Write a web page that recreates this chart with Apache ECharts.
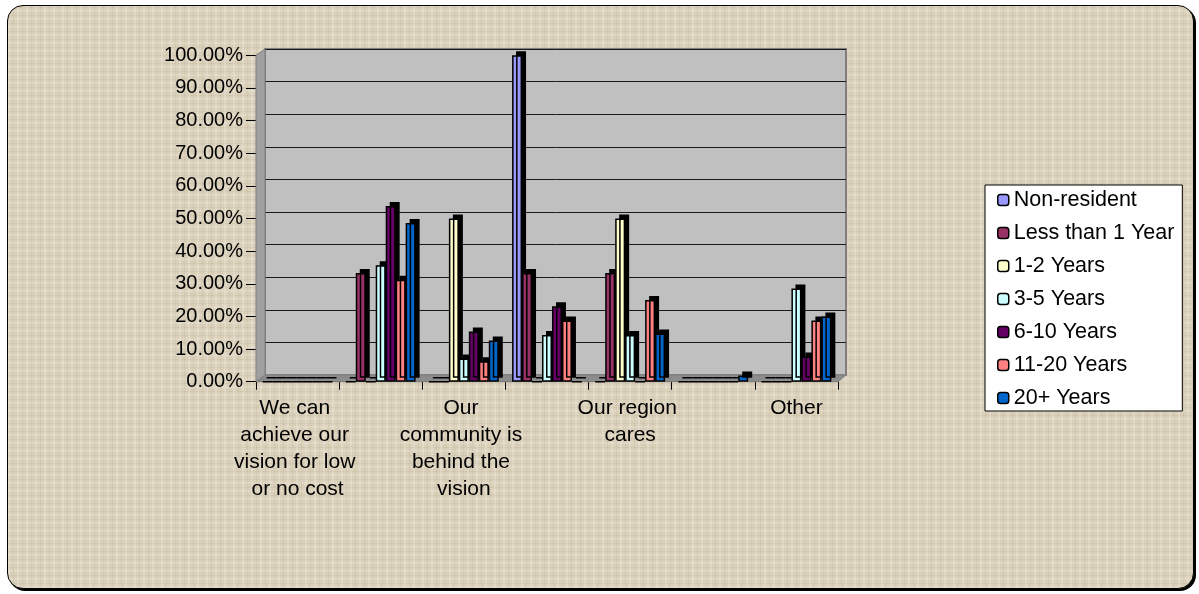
<!DOCTYPE html>
<html>
<head>
<meta charset="utf-8">
<script src="https://cdn.jsdelivr.net/npm/echarts@6/dist/echarts.min.js"></script>
<style>
  html, body { margin: 0; padding: 0; background: #ffffff; }
  #frame {
    position: absolute; left: 7px; top: 5px; width: 1185px; height: 582px;
    border: 1.5px solid #000; border-radius: 16px;
    box-shadow: 2px 2px 0 #000;
    background-color: #dad0ba;
    background-image:
      repeating-linear-gradient(90deg, rgba(255,255,255,0.18) 0 2px, rgba(0,0,0,0) 2px 5px, rgba(120,100,70,0.08) 5px 6px, rgba(0,0,0,0) 6px 9px),
      repeating-linear-gradient(0deg, rgba(255,255,255,0.15) 0 2px, rgba(0,0,0,0) 2px 4px, rgba(120,100,70,0.08) 4px 5px, rgba(0,0,0,0) 5px 8px);
  }
  #chart { position: absolute; left: 0; top: 0; width: 1199px; height: 594px; }
</style>
</head>
<body>
<div id="frame"></div>
<div id="chart"></div>
<script>
// ---- data ----
const categories = [
  'We can achieve our vision for low or no cost',
  '',
  'Our community is behind the vision',
  '',
  'Our region cares',
  '',
  'Other'
];
const seriesNames = ['Non-resident', 'Less than 1 Year', '1-2 Years', '3-5 Years', '6-10 Years', '11-20 Years', '20+ Years'];
const nonResident   = [0, 0,     0,    100,   0,     0,   0];
const lessThan1Year = [0, 33.33, 0,    33.33, 33.33, 0,   0];
const years1to2     = [0, 0,     50,   0,     50,    0,   0];
const years3to5     = [0, 35.71, 7.14, 14.29, 14.29, 0,   28.57];
const years6to10    = [0, 53.85, 15.38, 23.08, 0,    0,   7.69];
const years11to20   = [0, 31.25, 6.25, 18.75, 25,    0,   18.75];
const years20plus   = [0, 48.6,  12.6, 0,     14.8,  1.9, 20];
const yTickLabels = ['0.00%', '10.00%', '20.00%', '30.00%', '40.00%', '50.00%', '60.00%', '70.00%', '80.00%', '90.00%', '100.00%'];

const seriesValues = [nonResident, lessThan1Year, years1to2, years3to5, years6to10, years11to20, years20plus];
const colors = ['#9999ff', '#993366', '#ffffcc', '#ccffff', '#660066', '#ff8080', '#0066cc'];
const FONT = '"Liberation Sans", Arial, sans-serif';

// front plane and back wall geometry
const front = { left: 256, top: 55.3, width: 582, height: 326.4 };
const back  = { left: 265, top: 49,   width: 581, height: 326 };

const chart = echarts.init(document.getElementById('chart'), null, { renderer: 'canvas' });

const series = seriesNames.map((name, i) => ({
  name: name,
  type: 'bar',
  xAxisIndex: 0,
  yAxisIndex: 0,
  data: seriesValues[i],
  barGap: '0%',
  barCategoryGap: '16%',
  itemStyle: {
    color: colors[i],
    borderColor: '#000',
    borderWidth: 1.5,
    shadowColor: '#000',
    shadowBlur: 0,
    shadowOffsetX: 4,
    shadowOffsetY: -4
  },
  emphasis: { disabled: true },
  z: 3
}));

chart.setOption({
  backgroundColor: 'transparent',
  animation: false,
  textStyle: { fontFamily: FONT },
  grid: [
    { left: front.left, top: front.top, width: front.width, height: front.height },
    { left: back.left, top: back.top, width: back.width, height: back.height,
      show: true, backgroundColor: '#c0c0c0', borderColor: '#808080', borderWidth: 2 }
  ],
  xAxis: [
    {
      gridIndex: 0, type: 'category', data: categories,
      axisLine: { show: true, lineStyle: { color: '#000', width: 1 } },
      axisTick: { show: true, length: 8, interval: 0, alignWithLabel: false, lineStyle: { color: '#000', width: 1 } },
      axisLabel: {
        interval: 0, color: '#000', fontSize: 21, fontFamily: FONT, lineHeight: 27,
        margin: 13, width: 132, overflow: 'break', hideOverlap: false
      },
      splitLine: { show: false }
    },
    { gridIndex: 1, type: 'category', data: categories, show: false }
  ],
  yAxis: [
    {
      gridIndex: 0, type: 'value', min: 0, max: 100, interval: 10,
      axisLine: { show: true, lineStyle: { color: '#000', width: 1 } },
      axisTick: { show: true, length: 10, lineStyle: { color: '#000', width: 1 } },
      axisLabel: {
        color: '#000', fontSize: 20, fontFamily: FONT, margin: 13,
        formatter: (v) => yTickLabels[Math.round(v / 10)]
      },
      splitLine: { show: false }
    },
    {
      gridIndex: 1, type: 'value', min: 0, max: 100, interval: 10,
      axisLine: { show: false }, axisTick: { show: false }, axisLabel: { show: false },
      splitLine: { show: true, lineStyle: { color: '#1a1a1a', width: 1 } }
    }
  ],
  legend: {
    data: seriesNames,
    orient: 'vertical',
    left: 985, top: 185,
    padding: [4, 8, 2, 12],
    itemWidth: 11, itemHeight: 11, itemGap: 11,
    backgroundColor: '#ffffff',
    borderColor: '#000', borderWidth: 1,
    textStyle: { color: '#000', fontSize: 21.5, fontFamily: FONT, lineHeight: 22 },
    itemStyle: { borderColor: '#000', borderWidth: 1.5, shadowBlur: 0, shadowOffsetX: 0, shadowOffsetY: 0, shadowColor: 'rgba(0,0,0,0)' },
    selectedMode: false
  },
  graphic: [
    { // left side wall
      type: 'polygon', z: 1, silent: true,
      shape: { points: [
        [front.left, front.top], [back.left, back.top],
        [back.left, back.top + back.height], [front.left, front.top + front.height]
      ] },
      style: { fill: '#a0a0a0', stroke: '#808080', lineWidth: 1 }
    },
    { // floor
      type: 'polygon', z: 1, silent: true,
      shape: { points: [
        [front.left, front.top + front.height], [back.left, back.top + back.height],
        [back.left + back.width, back.top + back.height], [front.left + front.width, front.top + front.height]
      ] },
      style: { fill: '#8c8c8c', stroke: '#808080', lineWidth: 1 }
    }
  ],
  series: series
});
</script>
</body>
</html>
